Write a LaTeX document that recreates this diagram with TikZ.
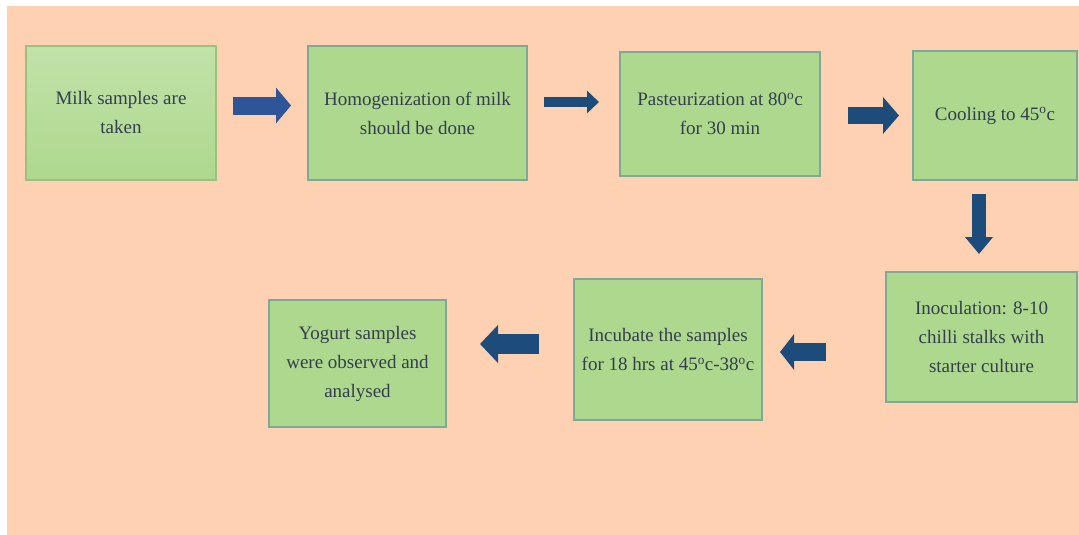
\documentclass[tikz,border=0pt]{standalone}
\usepackage{fontspec}
\setmainfont{Liberation Serif}
\usepackage{tikz}
\usetikzlibrary{arrows.meta}

\definecolor{peach}{HTML}{FDD1B1}
\definecolor{boxgreen}{HTML}{ADD88D}
\definecolor{boxedge}{HTML}{7EA897}
\definecolor{textgrey}{HTML}{333F4F}
\definecolor{arrowblue}{HTML}{1D4B7A}
\definecolor{arrowlight}{HTML}{2E5597}

\begin{document}
\begin{tikzpicture}[x=1pt, y=-1pt,
    stepbox/.style={draw=boxedge, line width=2pt, fill=boxgreen, align=center,
      text=textgrey, inner sep=0pt,
      font=\fontsize{19}{29}\selectfont},
    blockarrow/.style={draw=arrowblue}]
    \useasboundingbox (0, 0) rectangle (1079, 535);
    % background
    \fill [peach] (7, 6) rectangle (1079, 535);

    % top row
    \node [stepbox, draw=boxgreen!85!black!70!boxgreen, top color=boxgreen!75!white,
      bottom color=boxgreen, minimum width=190pt, minimum height=134pt]
      (milk) at (121, 113) {Milk samples are\\taken};
    \node [stepbox, minimum width=219pt, minimum height=134pt]
      (homog) at (417.5, 113) {Homogenization of milk\\should be done};
    \node [stepbox, minimum width=200pt, minimum height=124pt]
      (pasteur) at (720, 114) {Pasteurization at 80\textsuperscript{o}c\\for 30 min};
    \node [stepbox, minimum width=164pt, minimum height=129pt]
      (cooling) at (995, 115.5) {Cooling to 45\textsuperscript{o}c};

    % bottom row
    \node [stepbox, minimum width=191pt, minimum height=130pt]
      (inoc) at (981.5, 337) {Inoculation: 8-10\\chilli stalks with\\starter culture};
    \node [stepbox, minimum width=188pt, minimum height=141pt]
      (incub) at (668, 349.5) {Incubate the samples\\for 18 hrs at 45\textsuperscript{o}c-38\textsuperscript{o}c};
    \node [stepbox, minimum width=177pt, minimum height=127pt]
      (yogurt) at (357.5, 363.5) {Yogurt samples\\were observed and\\analysed};

    % arrows
    \draw [blockarrow, draw=arrowlight, line width=18pt, -{Triangle[length=15pt, width=35pt]},
      shorten <=16pt, shorten >=16pt]
      ([yshift=7.5pt]milk.east) -- ([yshift=7.5pt]homog.west);
    \draw [blockarrow, line width=10pt, -{Triangle[length=12pt, width=22pt]},
      shorten <=16pt, shorten >=20pt]
      ([yshift=11pt]homog.east) -- ([yshift=12pt]pasteur.west);
    \draw [blockarrow, line width=17pt, -{Triangle[length=16pt, width=36pt]},
      shorten <=27pt, shorten >=13pt]
      ([yshift=-1.5pt]pasteur.east) -- (cooling.west);
    \draw [blockarrow, line width=14pt, -{Triangle[length=17pt, width=27pt]},
      shorten <=13pt, shorten >=17pt]
      ([xshift=-16pt]cooling.south) -- ([xshift=-2.5pt]inoc.north);
    \draw [blockarrow, line width=18pt, -{Triangle[length=14pt, width=35pt]},
      shorten <=59pt, shorten >=17pt]
      ([yshift=-15pt]inoc.west) -- ([yshift=-2.5pt]incub.east);
    \draw [blockarrow, line width=20pt, -{Triangle[length=18pt, width=37pt]},
      shorten <=34pt, shorten >=33pt]
      ([yshift=5.5pt]incub.west) -- ([yshift=19.5pt]yogurt.east);
\end{tikzpicture}
\end{document}
